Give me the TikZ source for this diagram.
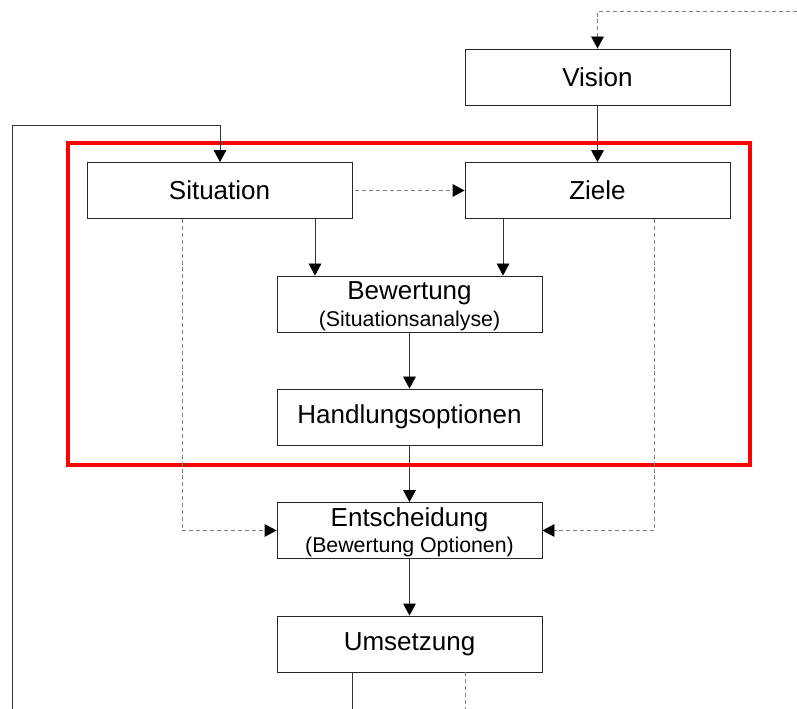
\documentclass[tikz,border=0pt]{standalone}
\usepackage{fontspec}
\setmainfont{Liberation Sans}
\usetikzlibrary{arrows.meta}
\tikzset{
  stepbox/.style={draw=black!85, line width=0.65pt, fill=white, inner sep=0pt,
    minimum width=265*0.75pt, minimum height=56*0.75pt, align=center,
    font=\fontsize{19.5}{21}\selectfont},
  flow/.style={draw=black!80, line width=0.65pt},
  hint/.style={draw=black!50, line width=0.65pt, dash pattern=on 3pt off 2.2pt},
  tip/.style={-{Triangle[length=9pt,width=9.5pt,color=black]}},
  frame/.style={draw=red, line width=2.3pt},
}
% two-line step text: a title and a smaller remark below it
\newcommand{\twoline}[2]{\rule{0pt}{16.6pt}#1\\[-1pt]{\fontsize{16}{17}\selectfont #2}}
\begin{document}
\begin{tikzpicture}[x=0.75pt,y=-0.75pt]
  \useasboundingbox (0,0) rectangle (797,709);

  % focus frame around the analysis steps
  \draw[frame] (68,143) rectangle (750,465);

  % process steps
  \node[stepbox] (vision) at (597.5,77) {Vision};
  \node[stepbox] (situation) at (219.5,190.5) {Situation};
  \node[stepbox] (ziele) at (597.5,190.5) {Ziele};
  \node[stepbox] (bewertung) at (409.5,304) {\twoline{Bewertung}{(Situationsanalyse)}};
  \node[stepbox] (optionen) at (409.5,417) {Handlungsoptionen};
  \node[stepbox] (entscheidung) at (409.5,530.5) {\twoline{Entscheidung}{(Bewertung Optionen)}};
  \node[stepbox] (umsetzung) at (409.5,644) {Umsetzung};

  % free ends at the picture border
  \coordinate (topin) at (797,11);
  \coordinate (loopstart) at (12,709);
  \coordinate (solidout) at (352,709);
  \coordinate (dashout) at (465,709);

  % main flow
  \draw[flow,tip] (vision) -- (ziele);
  \draw[flow,tip] (situation.south -| 315,0) -- (bewertung.north -| 315,0);
  \draw[flow,tip] (ziele.south -| 503,0) -- (bewertung.north -| 503,0);
  \draw[flow,tip] (bewertung) -- (optionen);
  \draw[flow,tip] (optionen) -- (entscheidung);
  \draw[flow,tip] (entscheidung) -- (umsetzung);

  % feedback loop into the situation
  \draw[flow,tip] (loopstart) |- (220,125) -- (situation.north -| 220,0);

  % dashed relations
  \draw[hint,tip] (topin) -| (vision.north);
  \draw[hint,tip] (situation.east) ++(3,0) -- (ziele.west);
  \draw[hint,tip] (situation.south -| 182,0) |- (entscheidung.west);
  \draw[hint,tip] (ziele.south -| 654,0) |- (entscheidung.east);

  % outgoing lines below the implementation step
  \draw[flow] (umsetzung.south -| solidout) -- (solidout);
  \draw[hint] (umsetzung.south -| dashout) -- (dashout);
\end{tikzpicture}
\end{document}
